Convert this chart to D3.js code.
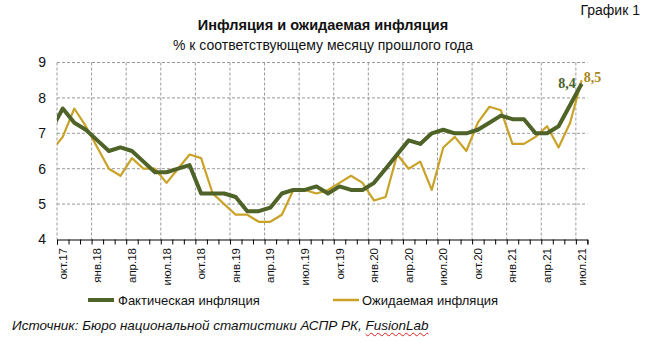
<!DOCTYPE html>
<html><head><meta charset="utf-8">
<script src="https://cdn.jsdelivr.net/npm/d3@7"></script>
<style>
html,body{margin:0;padding:0;background:#fff;}
#wrap{position:relative;width:647px;height:343px;overflow:hidden;}
#src{position:absolute;left:12px;top:318px;font:italic 13.5px "Liberation Sans",Arial,sans-serif;color:#111;white-space:nowrap;}
#src span{text-decoration:underline wavy #d22;text-decoration-thickness:1px;text-underline-offset:2px;}
</style></head>
<body><div id="wrap"><svg id="chart" width="647" height="343"></svg>
<div id="src">Источник: Бюро национальной статистики АСПР РК, <span>FusionLab</span></div></div>
<script>
// months: first entry (сен.17) lies left of the plot and is clipped
const months = ["сен.17","окт.17","ноя.17","дек.17","янв.18","фев.18","мар.18","апр.18","май.18","июн.18","июл.18","авг.18","сен.18",
"окт.18","ноя.18","дек.18","янв.19","фев.19","мар.19","апр.19","май.19","июн.19","июл.19","авг.19","сен.19",
"окт.19","ноя.19","дек.19","янв.20","фев.20","мар.20","апр.20","май.20","июн.20","июл.20","авг.20","сен.20",
"окт.20","ноя.20","дек.20","янв.21","фев.21","мар.21","апр.21","май.21","июн.21","июл.21"];
const tickLabels = ["окт.17","янв.18","апр.18","июл.18","окт.18","янв.19","апр.19","июл.19","окт.19","янв.20","апр.20","июл.20","окт.20","янв.21","апр.21","июл.21"];
const actual = [7.1,7.7,7.3,7.1,6.8,6.5,6.6,6.5,6.2,5.9,5.9,6.0,6.1,
5.3,5.3,5.3,5.2,4.8,4.8,4.9,5.3,5.4,5.4,5.5,5.3,
5.5,5.4,5.4,5.6,6.0,6.4,6.8,6.7,7.0,7.1,7.0,7.0,
7.1,7.3,7.5,7.4,7.4,7.0,7.0,7.2,7.8,8.4];
const expected = [6.5,6.9,7.7,7.2,6.6,6.0,5.8,6.3,6.0,6.0,5.6,6.0,6.4,
6.3,5.3,5.0,4.7,4.7,4.5,4.5,4.7,5.4,5.4,5.3,5.4,
5.6,5.8,5.6,5.1,5.2,6.4,6.0,6.2,5.4,6.6,6.9,6.5,
7.3,7.75,7.65,6.7,6.7,6.9,7.2,6.6,7.3,8.5];
const yTicks = [4,5,6,7,8,9];
const seriesNames = ["Фактическая инфляция","Ожидаемая инфляция"];
const endLabels = ["8,4","8,5"];

const C_ACT = "#4f6228", C_EXP = "#c9a227";
const svg = d3.select("#chart");
const L = 57, R = 587.4, T = 62.5, B = 239.5;
const x = d3.scaleLinear().domain([0.5, months.length - 0.5]).range([L, R]);
const y = d3.scaleLinear().domain([4, 9]).range([B, T]);
const font = '"Liberation Sans", Arial, sans-serif';

// header
svg.append("text").attr("x", 640).attr("y", 15).attr("text-anchor","end")
  .attr("font-family", font).attr("font-size", 14).attr("fill","#111").text("График 1");
svg.append("text").attr("x", 323).attr("y", 30).attr("text-anchor","middle")
  .attr("font-family", font).attr("font-size", 14.5).attr("font-weight","bold").attr("fill","#111")
  .text("Инфляция и ожидаемая инфляция");
svg.append("text").attr("x", 323).attr("y", 50).attr("text-anchor","middle")
  .attr("font-family", font).attr("font-size", 14).attr("fill","#111")
  .text("% к соответствующему месяцу прошлого года");

// grid
const bounds = d3.range(0.5, months.length, 1);
svg.append("g").selectAll("line").data(yTicks.filter(d => d > 4)).join("line")
  .attr("x1", L).attr("x2", R).attr("y1", d => y(d)).attr("y2", d => y(d))
  .attr("stroke","#9a9a9a").attr("stroke-width",1).attr("stroke-dasharray","3,2");
svg.append("g").selectAll("line").data(bounds.filter((d,i) => i % 3 === 0 && i < bounds.length - 1)).join("line")
  .attr("x1", d => x(d)).attr("x2", d => x(d)).attr("y1", T).attr("y2", B)
  .attr("stroke","#9a9a9a").attr("stroke-width",1).attr("stroke-dasharray","3,2");

// y labels
svg.append("g").selectAll("text").data(yTicks).join("text")
  .attr("x", 46).attr("y", d => y(d)).attr("dy","0.35em").attr("text-anchor","end")
  .attr("font-family", font).attr("font-size", 14).attr("fill","#111").text(d => d);

// x axis
const xAxis = d3.axisBottom(x).tickValues(bounds).tickSize(5).tickFormat("");
const gx = svg.append("g").attr("transform", `translate(0,${B})`).call(xAxis);
gx.select(".domain").attr("stroke","#000");
gx.selectAll(".tick line").attr("stroke","#000");
svg.append("g").selectAll("text").data(tickLabels).join("text")
  .attr("transform", d => `translate(${x(months.indexOf(d))},248) rotate(-90)`)
  .attr("dy","0.35em").attr("text-anchor","end")
  .attr("font-family", font).attr("font-size", 11.5).attr("fill","#111").text(d => d);

// lines
svg.append("clipPath").attr("id","clip").append("rect")
  .attr("x", L).attr("y", 0).attr("width", R - L).attr("height", 343);
const line = d3.line().x((d,i) => x(i)).y(d => y(d));
const gl = svg.append("g").attr("clip-path","url(#clip)");
gl.append("path").datum(expected).attr("d", line).attr("fill","none")
  .attr("stroke", C_EXP).attr("stroke-width", 2.2).attr("stroke-linejoin","round");
gl.append("path").datum(actual).attr("d", line).attr("fill","none")
  .attr("stroke", C_ACT).attr("stroke-width", 4).attr("stroke-linejoin","round");

// end labels
const last = months.length - 1;
svg.append("text").attr("x", x(last) - 6).attr("y", y(actual[last]) + 4).attr("text-anchor","end")
  .attr("font-family",'"Liberation Serif", "DejaVu Serif", serif').attr("font-weight","bold")
  .attr("font-size", 14).attr("fill", "#4a6128").text(endLabels[0]);
svg.append("text").attr("x", x(last) + 2).attr("y", y(expected[last]) + 2).attr("text-anchor","start")
  .attr("font-family",'"Liberation Serif", "DejaVu Serif", serif').attr("font-weight","bold")
  .attr("font-size", 14).attr("fill", "#a8891c").text(endLabels[1]);

// legend
const lg = svg.append("g");
[[88,118,C_ACT,4,seriesNames[0]],[333,362,C_EXP,2.5,seriesNames[1]]].forEach(([x0,tx,c,w,t]) => {
  lg.append("line").attr("x1",x0).attr("x2",x0+26).attr("y1",300).attr("y2",300).attr("stroke",c).attr("stroke-width",w);
  lg.append("text").attr("x",tx).attr("y",300).attr("dy","0.35em").attr("font-family",font)
    .attr("font-size",13).attr("fill","#111").text(t);
});
</script></body></html>
